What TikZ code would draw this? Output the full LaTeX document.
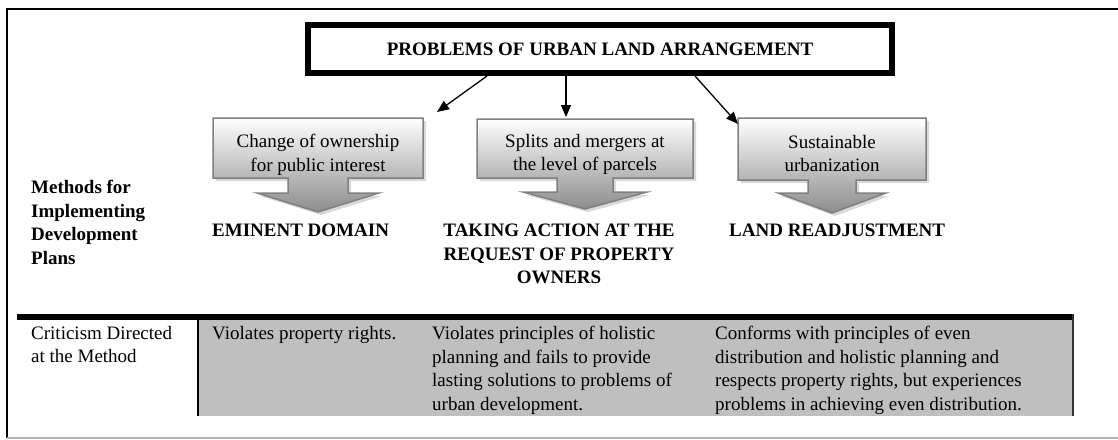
\documentclass[tikz,border=0pt]{standalone}
\usepackage{fontspec}
\setmainfont{Liberation Serif}
\usetikzlibrary{arrows.meta,shadows}

% box with a down arrow under it: centre x, half width, top, bottom, stem half, head half, stem end, tip
\newcommand{\downcallout}[8]{%
  \path[callout] (#1-#2,#3) -- (#1+#2,#3) -- (#1+#2,#4) -- (#1+#5,#4) -- (#1+#5,#7)
    -- (#1+#6,#7) -- (#1,#8) -- (#1-#6,#7) -- (#1-#5,#7) -- (#1-#5,#4) -- (#1-#2,#4) -- cycle;}

\begin{document}
\begin{tikzpicture}[x=1pt,y=-1pt,
  txt/.style={font=\fontsize{19}{23.5}\selectfont,inner sep=0pt,align=left},
  head/.style={txt,font=\fontsize{19}{23.5}\selectfont\bfseries},
  callout/.style={draw=black!50,line width=1.5pt,top color=white,bottom color=black!45,
    drop shadow={shadow xshift=3pt,shadow yshift=-3pt,opacity=0.3}},
  link/.style={line width=1.3pt,-{Triangle[length=12pt,width=10pt]}}]
\useasboundingbox (0,0) rectangle (1118,439);

% frame
\draw[line width=1.2pt] (1118,9) -- (7,9) -- (7,438);
\draw[black!30,line width=1.2pt] (7,438) -- (1118,438);

% title
\node[head,draw,line width=6pt,minimum width=584pt,minimum height=48pt,align=center] (title) at (600,49) {PROBLEMS OF URBAN LAND ARRANGEMENT};

% callouts
\downcallout{318}{105}{118}{178}{30}{61}{193}{212}
\downcallout{585}{108}{119}{178}{28}{62}{192}{209}
\downcallout{832}{94}{118}{180}{24}{54}{193}{213}

\node[txt,align=center,anchor=north] (own) at (318,134) {Change of ownership\\for public interest};
\node[txt,align=center,anchor=north] (split) at (585,134) {Splits and mergers at\\the level of parcels};
\node[txt,align=center,anchor=north] (sust) at (832,135) {Sustainable\\urbanization};

\coordinate (t1) at (437,112);
\coordinate (t2) at (566,117);
\coordinate (t3) at (738,124);
\draw[link] ([xshift=-113pt]title.south) -- (t1);
\draw[link] ([xshift=-34pt]title.south) -- (t2);
\draw[link] ([xshift=95pt]title.south) -- (t3);

% headings
\node[head,anchor=north west] (meth) at (31,180) {Methods for\\Implementing\\Development\\Plans};
\node[head,anchor=north west] (emin) at (212,224) {EMINENT DOMAIN};
\node[head,anchor=north,align=center] (take) at (559,224) {TAKING ACTION AT THE\\REQUEST OF PROPERTY\\OWNERS};
\node[head,anchor=north west] (land) at (729,224) {LAND READJUSTMENT};

% table
\fill[black!25] (198,320) rectangle (1073,416);
\draw[line width=6.5pt] (17,317) -- (1074,317);
\draw[line width=1.5pt] (198,320) -- (198,416);
\draw[line width=2pt,black!80] (1073,314) -- (1073,416);

\node[txt,anchor=north west] (crit) at (31,326) {Criticism Directed\\at the Method};
\node[txt,anchor=north west] (v1) at (212,326) {Violates property rights.};
\node[txt,anchor=north west] (v2) at (432,326) {Violates principles of holistic\\planning and fails to provide\\lasting solutions to problems of\\urban development.};
\node[txt,anchor=north west] (v3) at (715,326) {Conforms with principles of even\\distribution and holistic planning and\\respects property rights, but experiences\\problems in achieving even distribution.};
\end{tikzpicture}
\end{document}
